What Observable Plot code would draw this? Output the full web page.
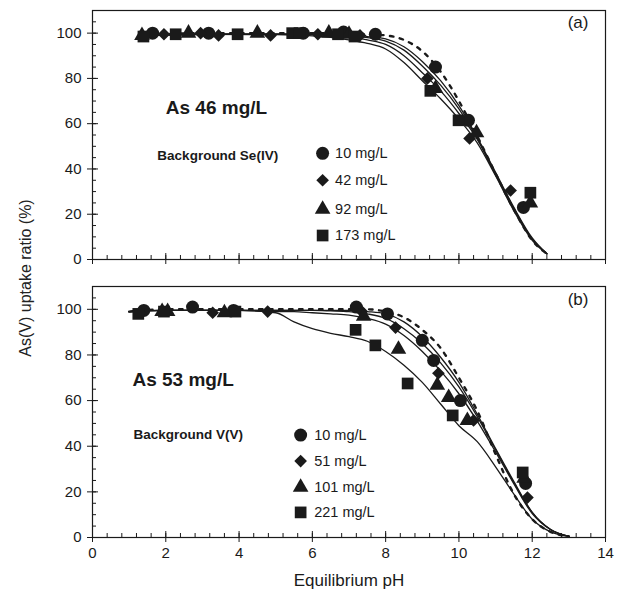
<!DOCTYPE html>
<html><head><meta charset="utf-8">
<script src="https://cdn.jsdelivr.net/npm/d3@7"></script>
<script src="https://cdn.jsdelivr.net/npm/@observablehq/plot@0.6"></script>
<style>
body{margin:0;background:#fff;}
#wrap{position:relative;width:623px;height:600px;font-family:"Liberation Sans",Arial,sans-serif;}
#ylab{position:absolute;z-index:2;left:26px;top:278px;transform:translate(-50%,-50%) rotate(-90deg);font-size:16px;white-space:nowrap;color:#222;}
svg{display:block}
</style></head><body><div id="wrap"><div id="ylab">As(V) uptake ratio (%)</div></div>
<script>
// ---------- tick labels ----------
const xMajor = [0, 2, 4, 6, 8, 10, 12, 14];
const xMinor = d3.range(0, 14.001, 0.4);
const yMajor = [0, 20, 40, 60, 80, 100];
const yMinor = d3.range(0, 110.001, 5);

// ---------- panel (a): As 46 mg/L, background Se(IV) ----------
const aCirclePH = [1.64, 3.17, 5.75, 6.85, 7.72, 9.36, 10.26, 11.76];
const aCircleV  = [100, 100, 100, 100.5, 99.5, 85, 61.5, 23];
const aDiamondPH = [1.95, 2.95, 3.44, 4.86, 6.15, 7.3, 9.14, 10.29, 11.41];
const aDiamondV  = [99.5, 100, 99, 99, 99.5, 99, 80, 53.5, 30.5];
const aTrianglePH = [1.35, 2.62, 4.5, 6.45, 7.0, 9.36, 10.48, 11.95];
const aTriangleV  = [99, 100, 100, 100, 99.5, 75.5, 56, 25];
const aSquarePH = [1.39, 2.27, 3.96, 5.45, 5.65, 6.7, 7.15, 9.22, 9.99, 11.95];
const aSquareV  = [98.5, 99.5, 99.5, 100, 100, 99.5, 98.5, 74.5, 61.5, 29.5];

const aCurvePH = [1.3, 3, 5, 6, 7, 7.5, 8, 8.5, 9, 9.5, 10, 10.5, 11, 11.5, 12, 12.4];
const aCurve1 = [99, 99.5, 99.5, 99.5, 99.3, 98.5, 97.5, 94, 87.5, 79, 68, 54, 38.5, 23, 9.5, 2.5];
const aCurve2 = [99, 99.5, 99.5, 99.5, 99, 98, 96.5, 92.5, 85.5, 77, 66.5, 53.5, 38, 22.5, 9, 2.5];
const aCurve3 = [99, 99.5, 99.5, 99.3, 98.5, 97, 95, 90, 82.5, 74.5, 64.5, 53, 37.5, 22, 9, 2.5];
const aCurve4 = [99, 99.5, 99.3, 98.8, 97, 95.5, 93, 87, 79, 71, 62, 51.5, 37, 21.5, 8.5, 2.5];
const aDashPH = [1.3, 3, 5, 6, 7, 7.5, 8, 8.5, 9, 9.5, 10, 10.5, 11, 11.5, 12, 12.45];
const aDash   = [99, 100, 100, 100, 100, 99.5, 99, 97, 92, 83, 70, 54.5, 38, 22, 8.5, 2];

const aTitle = "As 46 mg/L";
const aBackground = "Background Se(IV)";
const aLegend = ["10 mg/L", "42 mg/L", "92 mg/L", "173 mg/L"];
const aTag = "(a)";

// ---------- panel (b): As 53 mg/L, background V(V) ----------
const bCirclePH = [1.4, 2.73, 3.85, 7.2, 8.05, 9.0, 9.31, 10.04, 11.82];
const bCircleV  = [99.5, 101, 99.5, 101, 98, 86.4, 77.6, 60, 23.7];
const bDiamondPH = [1.3, 3.28, 4.78, 7.35, 8.27, 9.44, 10.4, 11.87];
const bDiamondV  = [98.5, 98.5, 99, 99, 92, 72, 51.3, 17.5];
const bTrianglePH = [1.9, 2.05, 3.6, 7.4, 8.35, 9.41, 9.72, 10.23, 11.78];
const bTriangleV  = [99, 99, 98.5, 97, 82.5, 66.7, 61.4, 51.3, 26];
const bSquarePH = [1.25, 1.95, 3.9, 7.18, 7.72, 8.6, 9.83, 11.74];
const bSquareV  = [98, 99, 99, 91, 84.2, 67.5, 53.5, 28.5];

const bCurvePH = [1.0, 2, 3, 4, 5, 5.5, 6, 6.5, 7, 7.5, 8, 8.5, 9, 9.5, 10, 10.5, 11, 11.5, 12, 12.5, 13];
const bCurve1 = [99, 99.5, 99.5, 99.5, 99.5, 99.5, 99.5, 99.5, 99.5, 99, 98, 94.5, 88, 79, 68, 54, 39, 24.5, 11, 3.5, 0.5];
const bCurve2 = [99, 99.5, 99.5, 99.5, 99.5, 99.5, 99.5, 99.3, 99, 98, 96, 91.5, 85, 76.5, 66, 53, 38.5, 24, 11, 3.5, 0.5];
const bCurve3 = [99, 99.5, 99.5, 99.5, 99, 99, 98.5, 98, 97.5, 96, 93.5, 88.5, 81.5, 73, 63, 51, 37.5, 23.5, 10.5, 3.5, 0.5];
const bCurve4 = [99, 99.5, 99.5, 99.5, 98.5, 94.5, 91.5, 89.5, 88, 86, 81.5, 75.5, 68, 58.5, 49, 42, 31, 19, 8, 2.5, 0.5];
const bDash   = [99, 100, 100, 100, 100, 100, 100, 100, 100, 100, 99, 96.5, 91, 83, 70, 55.5, 36.5, 19, 8, 2.5, 0.5];

const bTitle = "As 53 mg/L";
const bBackground = "Background V(V)";
const bLegend = ["10 mg/L", "51 mg/L", "101 mg/L", "221 mg/L"];
const bTag = "(b)";

const xTitle = "Equilibrium pH";

// ---------- annotation anchors (data units) ----------
const aNote = {titleX: 2.0, titleY: 67, bgX: 1.77, bgY: 45.8, mX: 6.28, tX: 6.62, rows: [46.9, 35, 22.2, 10.6], tagX: 13.25, tagY: 104.5};
const bNote = {titleX: 1.09, titleY: 68.9, bgX: 1.12, bgY: 45.2, mX: 5.68, tX: 6.05, rows: [44.9, 33.5, 22, 11], tagX: 13.25, tagY: 104.5};

const symbols = ["circle", "diamond2", "triangle", "square"];
const symR = {circle: 6.5, diamond2: 5.7, triangle: 5.8, square: 6.6};
const INK = "#1a1a1a";
const LEFT = 92, RIGHT = 18, W = 623;
const FW = W - LEFT - RIGHT;

const zip = (xs, ys) => xs.map((x, i) => ({x, y: ys[i]}));

function panel(o) {
  const plotH = o.height - o.marginTop - o.marginBottom;
  const marks = [];
  for (const c of o.curves) marks.push(Plot.line(zip(o.curvePH, c), {x: "x", y: "y", stroke: INK, strokeWidth: 1.3, curve: "monotone-x"}));
  marks.push(Plot.line(zip(o.dashPH, o.dash), {x: "x", y: "y", stroke: INK, strokeWidth: 2.4, strokeDasharray: "3.5,6.5", curve: "monotone-x"}));
  o.series.forEach((s, i) => {
    const sym = symbols[i];
    marks.push(Plot.dot(zip(s[0], s[1]), {x: "x", y: "y", symbol: sym, r: symR[sym], fill: INK, stroke: "none"}));
  });
  const n = o.note;
  o.legend.forEach((t, i) => {
    const sym = symbols[i];
    marks.push(Plot.dot([n.rows[i]], {x: () => n.mX, y: d => d, symbol: sym, r: symR[sym], fill: INK, stroke: "none"}));
    marks.push(Plot.text([t], {x: () => n.tX, y: () => n.rows[i], text: d => d, textAnchor: "start", fontSize: 14.5, fill: INK}));
  });
  marks.push(Plot.text([o.title], {x: () => n.titleX, y: () => n.titleY, text: d => d, textAnchor: "start", fontSize: 19, fontWeight: "bold", fill: INK}));
  marks.push(Plot.text([o.background], {x: () => n.bgX, y: () => n.bgY, text: d => d, textAnchor: "start", fontSize: 13.5, fontWeight: "bold", fill: INK}));
  marks.push(Plot.text([o.tag], {x: () => n.tagX, y: () => n.tagY, text: d => d, textAnchor: "middle", fontSize: 17, fill: INK}));
  marks.push(Plot.tickX(xMinor, {x: d => d, insetTop: plotH - 4, stroke: INK, strokeWidth: 1}));
  marks.push(Plot.tickX(xMajor, {x: d => d, insetTop: plotH - 6, insetBottom: -5, stroke: INK, strokeWidth: 1}));
  marks.push(Plot.tickY(yMinor, {y: d => d, insetRight: FW - 4, stroke: INK, strokeWidth: 1}));
  marks.push(Plot.tickY(yMajor, {y: d => d, insetLeft: -5, insetRight: FW - 6, stroke: INK, strokeWidth: 1}));
  marks.push(Plot.axisY({ticks: yMajor, tickSize: 0, tickPadding: 11, fontSize: 15, label: null}));
  if (o.xLabels) {
    marks.push(Plot.axisX({ticks: xMajor, tickSize: 0, tickPadding: 10, fontSize: 15, label: null}));
    marks.push(Plot.text([xTitle], {frameAnchor: "bottom", dy: 48, text: d => d, fontSize: 17, fill: INK}));
  }
  marks.push(Plot.frame({stroke: INK, strokeWidth: 1.2}));
  return Plot.plot({
    width: W, height: o.height,
    marginLeft: LEFT, marginRight: RIGHT, marginTop: o.marginTop, marginBottom: o.marginBottom,
    x: {domain: [0, 14], axis: o.xLabels ? undefined : null},
    y: {domain: [0, 110]},
    style: {fontFamily: "'Liberation Sans', Arial, sans-serif", color: INK, background: "transparent", overflow: "visible"},
    marks
  });
}

const wrap = document.getElementById("wrap");
wrap.appendChild(panel({
  height: 272, marginTop: 10, marginBottom: 13,
  series: [[aCirclePH, aCircleV], [aDiamondPH, aDiamondV], [aTrianglePH, aTriangleV], [aSquarePH, aSquareV]],
  curvePH: aCurvePH, curves: [aCurve1, aCurve2, aCurve3, aCurve4],
  dashPH: aDashPH, dash: aDash,
  legend: aLegend, title: aTitle, background: aBackground, tag: aTag, note: aNote, xLabels: false
}));
wrap.appendChild(panel({
  height: 328, marginTop: 14, marginBottom: 63,
  series: [[bCirclePH, bCircleV], [bDiamondPH, bDiamondV], [bTrianglePH, bTriangleV], [bSquarePH, bSquareV]],
  curvePH: bCurvePH, curves: [bCurve1, bCurve2, bCurve3, bCurve4],
  dashPH: bCurvePH, dash: bDash,
  legend: bLegend, title: bTitle, background: bBackground, tag: bTag, note: bNote, xLabels: true
}));
</script></body></html>
